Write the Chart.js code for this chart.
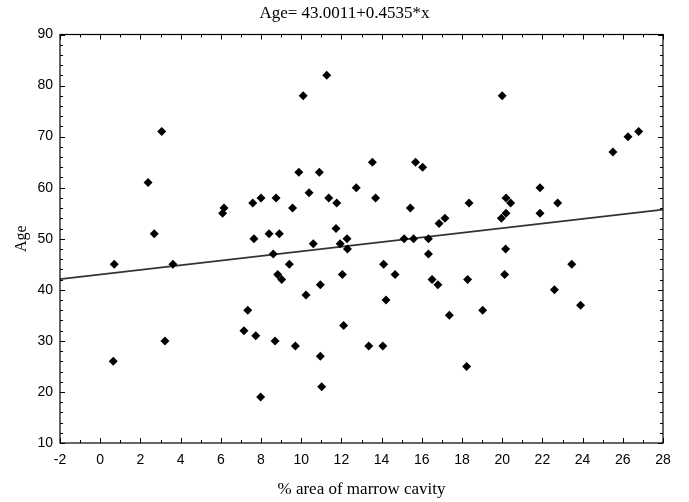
<!DOCTYPE html>
<html>
<head>
<meta charset="utf-8">
<script src="https://cdn.jsdelivr.net/npm/chart.js@4/dist/chart.umd.min.js"></script>
<style>
    html, body { margin: 0; padding: 0; background: #fff; }
    #box { width: 689px; height: 502px; }
</style>
</head>
<body>
<div id="box"><canvas id="scatterChart"></canvas></div>
<script>
// values
const marrowArea = [
    0.70, 0.65, 2.38, 2.69, 3.06, 3.22, 3.62, 6.09, 6.16, 7.15,
    7.34, 7.59, 7.65, 7.74, 7.98, 8.00, 8.40, 8.61, 8.70, 8.75,
    8.83, 8.91, 9.03, 9.41, 9.57, 9.71, 9.88, 10.10, 10.24, 10.39,
    10.60, 10.90, 10.95, 10.95, 11.02, 11.27, 11.37, 11.73, 11.77, 11.94,
    12.05, 12.11, 12.28, 12.30, 12.74, 13.36, 13.54, 13.70, 14.06, 14.10,
    14.22, 14.67, 15.12, 15.43, 15.59, 15.69, 16.04, 16.33, 16.33, 16.51,
    16.80, 16.86, 17.15, 17.37, 18.23, 18.28, 18.35, 19.03, 19.96, 20.00,
    20.12, 20.17, 20.19, 20.19, 20.42, 21.88, 21.88, 22.60, 22.76, 23.46,
    23.90, 25.51, 26.26, 26.79
];
const ages = [
    45, 26, 61, 51, 71, 30, 45, 55, 56, 32,
    36, 57, 50, 31, 19, 58, 51, 47, 30, 58,
    43, 51, 42, 45, 56, 29, 63, 78, 39, 59,
    49, 63, 41, 27, 21, 82, 58, 52, 57, 49,
    43, 33, 50, 48, 60, 29, 65, 58, 29, 45,
    38, 43, 50, 56, 50, 65, 64, 50, 47, 42,
    41, 53, 54, 35, 25, 42, 57, 36, 54, 78,
    43, 48, 55, 58, 57, 60, 55, 40, 57, 45,
    37, 67, 70, 71
];

// regression line ends (Age= 43.0011+0.4535*x)
const fitX = [-2, 28];
const fitY = [42.09, 55.70];

const xTicks = [-2, 0, 2, 4, 6, 8, 10, 12, 14, 16, 18, 20, 22, 24, 26, 28];
const yTicks = [10, 20, 30, 40, 50, 60, 70, 80, 90];

const titleText = "Age= 43.0011+0.4535*x";
const xTitle = "% area of marrow cavity";
const yTitle = "Age";

const points = marrowArea.map((x, i) => ({ x: x, y: ages[i] }));
const fitLine = fitX.map((x, i) => ({ x: x, y: fitY[i] }));

const tickFont = { family: "'Liberation Sans', Arial, sans-serif", size: 14 };
const serif = "'Liberation Serif', 'Times New Roman', serif";

// inward ticks on all four sides, plus the three titles
const framePlugin = {
    id: "frame",
    afterDraw(chart) {
        const ctx = chart.ctx;
        const a = chart.chartArea;
        const xs = chart.scales.x;
        const ys = chart.scales.y;

        ctx.save();
        ctx.strokeStyle = "#000";
        ctx.lineWidth = 1.2;
        ctx.strokeRect(a.left, a.top, a.right - a.left, a.bottom - a.top);

        ctx.lineWidth = 1;
        ctx.beginPath();
        for (let v = xs.min; v <= xs.max; v += 1) {
            const px = Math.round(xs.getPixelForValue(v)) + 0.5;
            const len = (v % 2 === 0) ? 5 : 3;
            ctx.moveTo(px, a.bottom);
            ctx.lineTo(px, a.bottom - len);
            ctx.moveTo(px, a.top);
            ctx.lineTo(px, a.top + len);
        }
        for (let v = ys.min; v <= ys.max; v += 2) {
            const py = Math.round(ys.getPixelForValue(v)) + 0.5;
            const len = (v % 10 === 0) ? 5 : 3;
            ctx.moveTo(a.left, py);
            ctx.lineTo(a.left + len, py);
            ctx.moveTo(a.right, py);
            ctx.lineTo(a.right - len, py);
        }
        ctx.stroke();

        ctx.fillStyle = "#000";
        ctx.textAlign = "center";
        ctx.textBaseline = "middle";
        ctx.font = "17px " + serif;
        ctx.fillText(titleText, chart.width / 2, 14);
        ctx.fillText(xTitle, (a.left + a.right) / 2, 490);

        ctx.translate(22, (a.top + a.bottom) / 2);
        ctx.rotate(-Math.PI / 2);
        ctx.font = "16px " + serif;
        ctx.fillText(yTitle, 0, 0);
        ctx.restore();
    }
};

new Chart(scatterChart, {
    type: "scatter",
    data: {
        datasets: [
            {
                data: points,
                pointStyle: "rectRot",
                pointRadius: 4.5,
                pointHoverRadius: 4.5,
                backgroundColor: "#000",
                borderWidth: 0
            },
            {
                type: "line",
                data: fitLine,
                borderColor: "#333",
                borderWidth: 1.8,
                pointRadius: 0,
                fill: false
            }
        ]
    },
    options: {
        responsive: true,
        maintainAspectRatio: false,
        animation: false,
        layout: {
            padding: { top: 34.5, right: 26, left: 0, bottom: 0 }
        },
        plugins: {
            legend: { display: false },
            tooltip: { enabled: false },
            title: { display: false }
        },
        scales: {
            x: {
                type: "linear",
                min: -2,
                max: 28,
                afterBuildTicks: s => { s.ticks = xTicks.map(v => ({ value: v })); },
                afterFit: s => { s.height = 59; },
                ticks: { font: tickFont, color: "#000", padding: 9, maxRotation: 0, autoSkip: false },
                grid: { display: false, drawTicks: false },
                border: { display: false }
            },
            y: {
                min: 10,
                max: 90,
                afterBuildTicks: s => { s.ticks = yTicks.map(v => ({ value: v })); },
                afterFit: s => { s.width = 60; },
                ticks: { font: tickFont, color: "#000", padding: 7 },
                grid: { display: false, drawTicks: false },
                border: { display: false }
            }
        }
    },
    plugins: [framePlugin]
});
</script>
</body>
</html>
